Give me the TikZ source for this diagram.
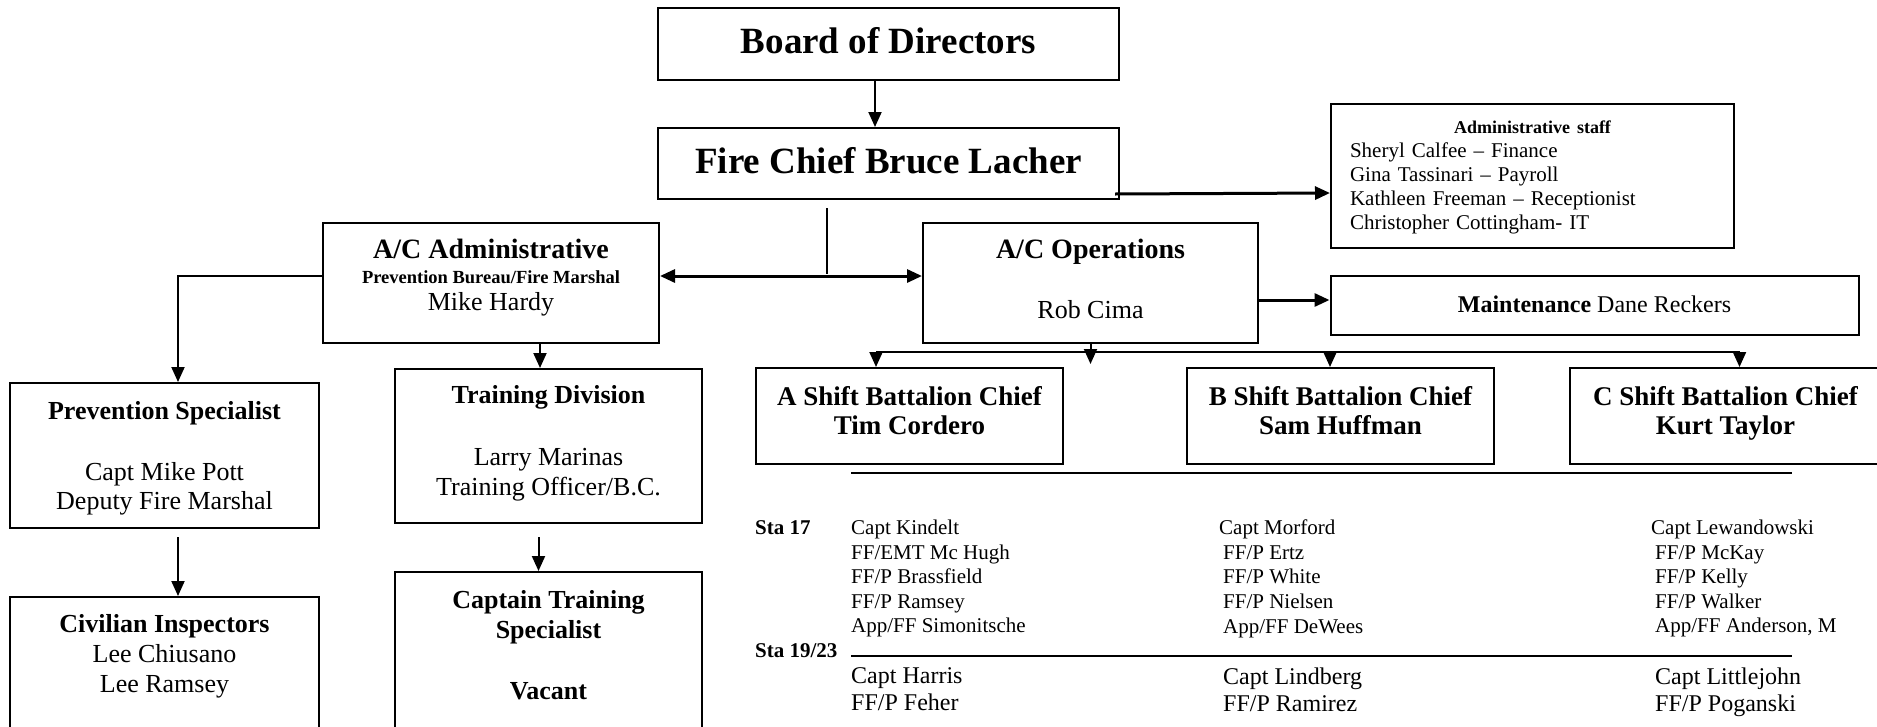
\documentclass[tikz,border=0pt]{standalone}
\usepackage{fontspec}
\setmainfont{Liberation Serif}
\usetikzlibrary{arrows.meta}

\begin{document}
\begin{tikzpicture}[x=1pt,y=-1pt,
	orgbox/.style={draw,line width=2pt,inner sep=0pt},
	txt/.style={inner sep=0pt,align=center},
	arr/.style={line width=2pt,-{Triangle[length=15pt,width=13pt]}},
	staline/.style={line width=2.5pt}]
	\useasboundingbox (0,0) rectangle (1877,726);
	\clip (0,0) rectangle (1877,726);

	% top of the chart
	\node[orgbox,minimum width=461pt,minimum height=72pt] (board) at (888.5,44) {};
	\node[txt,anchor=base,font=\fontsize{37}{44}\selectfont\bfseries] (board-t) at (888.5,53) {Board of Directors};
	\node[orgbox,minimum width=461pt,minimum height=71pt] (chief) at (888.5,163.5) {};
	\node[txt,anchor=base,font=\fontsize{37}{44}\selectfont\bfseries] (chief-t) at (888.5,173) {Fire Chief Bruce Lacher};
	\node[orgbox,minimum width=403pt,minimum height=144pt] (staff) at (1532.5,176) {};
	\node[inner sep=0pt,text width=365pt,align=left,font=\fontsize{21}{24}\selectfont] (staff-t) at (1532.5,177.6) {{\centering\fontsize{18}{24}\selectfont\bfseries Administrative staff\par}
		Sheryl Calfee – Finance\\
		Gina Tassinari – Payroll\\
		Kathleen Freeman – Receptionist\\
		Christopher Cottingham- IT};

	\node[orgbox,minimum width=336pt,minimum height=120pt] (admin) at (491,283) {};
	\node[txt,anchor=north,font=\fontsize{26}{26}\selectfont] (admin-t) at (491,238.7) {{\fontsize{28}{26}\selectfont\bfseries A/C Administrative}\\[-1pt]
		{\fontsize{18.5}{26}\selectfont\bfseries Prevention Bureau/Fire Marshal}\\[1pt]
		Mike Hardy};
	\node[orgbox,minimum width=335pt,minimum height=120pt] (ops) at (1090.5,283) {};
	\node[txt,anchor=north,font=\fontsize{26}{30}\selectfont] (ops-t) at (1090.5,238.7) {{\fontsize{28}{30}\selectfont\bfseries A/C Operations}\\[30pt]
		Rob Cima};
	\node[orgbox,minimum width=528pt,minimum height=59pt] (maint) at (1594.5,305.5) {};
	\node[txt,anchor=base,font=\fontsize{24}{28}\selectfont] (maint-t) at (1594.5,312) {\textbf{Maintenance} Dane Reckers};

	% left side
	\node[orgbox,minimum width=309pt,minimum height=145pt] (prev) at (164.5,455.5) {};
	\node[txt,anchor=north,font=\fontsize{26}{29}\selectfont] (prev-t) at (164.5,401) {\textbf{Prevention Specialist}\\[32pt]
		Capt Mike Pott\\
		Deputy Fire Marshal};
	\node[orgbox,minimum width=309pt,minimum height=200pt] (civ) at (164.5,697) {};
	\node[txt,anchor=north,font=\fontsize{26}{30}\selectfont] (civ-t) at (164.5,614) {\textbf{Civilian Inspectors}\\
		Lee Chiusano\\
		Lee Ramsey};
	\node[orgbox,minimum width=307pt,minimum height=154pt] (train) at (548.5,446) {};
	\node[txt,anchor=north,font=\fontsize{26}{30}\selectfont] (train-t) at (548.5,385) {\textbf{Training Division}\\[32pt]
		Larry Marinas\\
		Training Officer/B.C.};
	\node[orgbox,minimum width=307pt,minimum height=200pt] (capt) at (548.5,672) {};
	\node[txt,anchor=north,font=\fontsize{26}{30}\selectfont\bfseries] (capt-t) at (548.5,590) {Captain Training\\
		Specialist\\[31pt]
		Vacant};

	% shifts
	\node[orgbox,minimum width=307pt,minimum height=96pt] (shiftA) at (909.5,416) {};
	\node[txt,anchor=north,font=\fontsize{27}{29}\selectfont\bfseries] (shiftA-t) at (909.5,386.4) {A Shift Battalion Chief\\ Tim Cordero};
	\node[orgbox,minimum width=307pt,minimum height=96pt] (shiftB) at (1340.5,416) {};
	\node[txt,anchor=north,font=\fontsize{27}{29}\selectfont\bfseries] (shiftB-t) at (1340.5,386.4) {B Shift Battalion Chief\\ Sam Huffman};
	\node[orgbox,minimum width=313pt,minimum height=96pt] (shiftC) at (1726.5,416) {};
	\node[txt,anchor=north,font=\fontsize{27}{29}\selectfont\bfseries] (shiftC-t) at (1725.5,386.4) {C Shift Battalion Chief\\ Kurt Taylor};

	% stations
	\draw[staline] (851,473) -- (1792,473);
	\node[inner sep=0pt,anchor=base west,font=\fontsize{21}{24}\selectfont\bfseries] (sta17) at (755,534) {Sta 17};
	\node[inner sep=0pt,anchor=north west,align=left,font=\fontsize{21}{24.6}\selectfont] (sta17-a) at (851,519.7) {Capt Kindelt\\ FF/EMT Mc Hugh\\ FF/P Brassfield\\ FF/P Ramsey\\ App/FF Simonitsche};
	\node[inner sep=0pt,anchor=north west,align=left,font=\fontsize{21}{24.6}\selectfont] (sta17-b) at (1219,519.7) {Capt Morford\\ \hspace*{4pt}FF/P Ertz\\ \hspace*{4pt}FF/P White\\ \hspace*{4pt}FF/P Nielsen\\ \hspace*{4pt}App/FF DeWees};
	\node[inner sep=0pt,anchor=north west,align=left,font=\fontsize{21}{24.6}\selectfont] (sta17-c) at (1651,519.7) {Capt Lewandowski\\ \hspace*{4pt}FF/P McKay\\ \hspace*{4pt}FF/P Kelly\\ \hspace*{4pt}FF/P Walker\\ \hspace*{4pt}App/FF Anderson, M};
	\node[inner sep=0pt,anchor=base west,font=\fontsize{21}{24}\selectfont\bfseries] (sta19) at (755,657) {Sta 19/23};
	\draw[staline] (851,656) -- (1792,656);
	\node[inner sep=0pt,anchor=north west,align=left,font=\fontsize{24}{27}\selectfont] (sta19-a) at (851,667.6) {Capt Harris\\ FF/P Feher};
	\node[inner sep=0pt,anchor=north west,align=left,font=\fontsize{24}{27}\selectfont] (sta19-b) at (1223,667.6) {Capt Lindberg\\ FF/P Ramirez};
	\node[inner sep=0pt,anchor=north west,align=left,font=\fontsize{24}{27}\selectfont] (sta19-c) at (1655,667.6) {Capt Littlejohn\\ FF/P Poganski};

	% connectors
	\draw[arr] ([xshift=-13.5pt]board.south) -- ([xshift=-13.5pt]chief.north);
	\draw[arr,line width=3pt] ([xshift=-5pt,yshift=6pt]chief.south east) -- ([yshift=-17pt]staff.west);
	\coordinate (tick) at (827,208);
	\draw[line width=1.3pt] (tick) -- ++(0,66);
	\draw[line width=3pt,{Triangle[length=15pt,width=13pt]}-{Triangle[length=15pt,width=13pt]}] ([yshift=7pt]admin.east) -- ([yshift=7pt]ops.west);
	\draw[arr] ([yshift=7pt]admin.west) -| ([xshift=13.5pt]prev.north);
	\draw[arr] ([xshift=13.5pt,yshift=-8pt]prev.south) -- ([xshift=13.5pt]civ.north);
	\coordinate (train-in) at ([xshift=-8.5pt]train.north);
	\draw[arr] (admin.south -| train-in) -- (train-in);
	\draw[arr] ([xshift=-10pt,yshift=-13pt]train.south) -- ([xshift=-10pt]capt.north);
	\draw[arr,line width=3pt] ([yshift=-17pt]ops.east) -- ([yshift=-17pt]ops.east -| maint.west);
	\draw[arr] (ops.south) -- ++(0,20);
	\coordinate (busA) at ([xshift=-33.5pt,yshift=15pt]shiftA.north);
	\coordinate (busB) at ([xshift=-10.5pt,yshift=15pt]shiftB.north);
	\coordinate (busC) at ([xshift=13pt,yshift=15pt]shiftC.north);
	\draw[line width=2pt] (busA) -- (busC);
	\foreach \s in {A,B,C}
		\draw[arr] (bus\s) -- (bus\s |- shift\s.north);
\end{tikzpicture}
\end{document}
